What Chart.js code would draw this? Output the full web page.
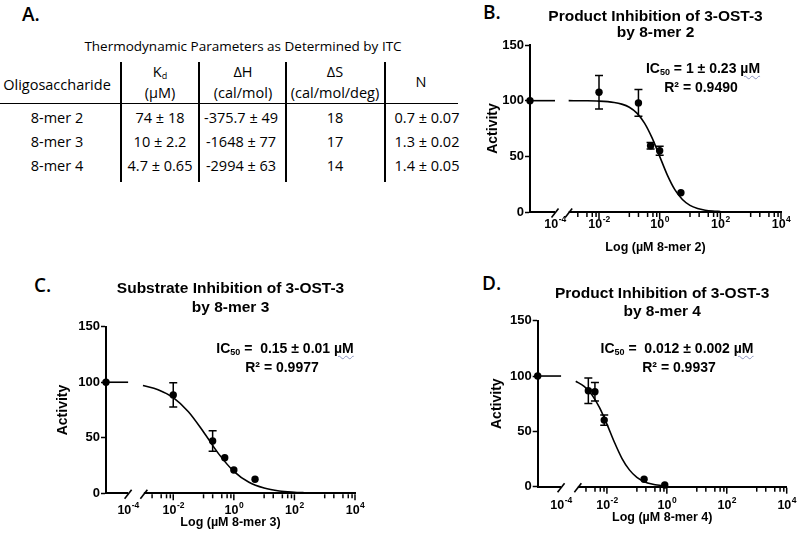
<!DOCTYPE html>
<html><head><meta charset="utf-8">
<script src="https://cdn.jsdelivr.net/npm/chart.js@4.4.0/dist/chart.umd.min.js"></script>
<style>
html,body{margin:0;padding:0;background:#fff;}
#root{position:relative;width:800px;height:542px;overflow:hidden;background:#fff;color:#000;}
.t{position:absolute;transform:translate(-50%,-50%);white-space:nowrap;line-height:1;font-family:"Open Sans",sans-serif;font-size:14.5px;font-weight:500;}
.lab{position:absolute;font-family:"Open Sans",sans-serif;font-weight:600;font-size:19px;transform:translate(0,-50%);line-height:1;}
.ann{position:absolute;transform:translate(-50%,-50%);white-space:nowrap;font-family:"Liberation Sans",Arial,sans-serif;font-weight:bold;font-size:14px;line-height:1;}
.ann sub{font-size:9px;vertical-align:-2px;line-height:0;}
.wavy{text-decoration:underline wavy #8a93c0;text-decoration-thickness:1px;text-underline-offset:2px;}
.hl{position:absolute;background:#000;}
canvas{position:absolute;}
</style></head>
<body>
<div id="root">
  <div class="lab" style="left:22px;top:14px">A.</div>
  <div class="lab" style="left:483px;top:12px">B.</div>
  <div class="lab" style="left:34px;top:285px">C.</div>
  <div class="lab" style="left:482px;top:283px">D.</div>
  <div id="tableA"></div>

  <canvas id="chartB" width="330" height="270" style="left:470px;top:0px;width:330px;height:270px"></canvas>
  <canvas id="chartC" width="400" height="272" style="left:0px;top:270px;width:400px;height:272px"></canvas>
  <canvas id="chartD" width="400" height="272" style="left:400px;top:270px;width:400px;height:272px"></canvas>

  <div class="ann" style="left:703px;top:68px">IC<sub>50</sub> = 1 ± 0.23 <span class="wavy">µM</span></div>
  <div class="ann" style="left:701px;top:87px">R² = 0.9490</div>
  <div class="ann" style="left:285px;top:348px">IC<sub>50</sub> =&nbsp; 0.15 ± 0.01 <span class="wavy">µM</span></div>
  <div class="ann" style="left:282px;top:367px">R² = 0.9977</div>
  <div class="ann" style="left:677px;top:348px">IC<sub>50</sub> =&nbsp; 0.012 ± 0.002 <span class="wavy">µM</span></div>
  <div class="ann" style="left:679px;top:367px">R² = 0.9937</div>
</div>
<script>
// ---------- Panel A table data ----------
const tableTitle = 'Thermodynamic Parameters as Determined by ITC';
const oligos = ['8-mer 2', '8-mer 3', '8-mer 4'];
const kdValues = ['74 ± 18', '10 ± 2.2', '4.7 ± 0.65'];
const dHValues = ['-375.7 ± 49', '-1648 ± 77', '-2994 ± 63'];
const dSValues = ['18', '17', '14'];
const nValues = ['0.7 ± 0.07', '1.3 ± 0.02', '1.4 ± 0.05'];

// ---------- Chart data (x = log10 concentration in µM) ----------
const xTickBase = '10';
const xTickExponents = ['-4', '-2', '0', '2', '4'];
const xMajorDecades = [-2, 0, 2, 4];
const xMinorDecades = [-3, -1, 1, 3];

// Panel B: product inhibition by 8-mer 2
const bControl = 100;
const bLogConc = [-2, -0.7, -0.3, 0, 0.7];
const bActivity = [107.5, 98, 59.5, 55, 17.3];
const bError = [15, 12, 3, 4, 0];
const bFitLogConc = [-3, -2.5, -2, -1.5, -1.25, -1, -0.75, -0.5, -0.25, 0, 0.25, 0.5, 0.75, 1, 1.25, 1.5, 1.75, 2];
const bFitActivity = [100, 99.9, 99.6, 98.4, 96.9, 94.1, 88.8, 79.9, 66.6, 50, 33.4, 20.1, 11.2, 5.9, 3.1, 1.6, 0.8, 0.4];

// Panel C: substrate inhibition by 8-mer 3
const cControl = 100;
const cLogConc = [-2, -0.7, -0.3, 0, 0.7];
const cActivity = [88.6, 47.1, 32, 21, 12.6];
const cError = [11, 9.3, 0, 0, 0];
const cFitLogConc = [-3, -2.5, -2, -1.5, -1, -0.5, 0, 0.5, 1, 1.5, 2, 2.3];
const cFitActivity = [97.1, 93.3, 86.1, 73.4, 55.2, 35.5, 19.8, 9.9, 4.7, 2.1, 1.0, 0.6];

// Panel D: product inhibition by 8-mer 4
const dControl = 100;
const dLogConc = [-2.62, -2.40, -2.09, -0.76, -0.07];
const dActivity = [86.7, 85.8, 60.2, 6.7, 1.5];
const dError = [11.6, 8.3, 4.6, 0, 0];
const dFitLogConc = [-3.04, -2.75, -2.5, -2.25, -2, -1.75, -1.5, -1.25, -1, -0.75, -0.5, -0.25, 0];
const dFitActivity = [95.3, 90.5, 83.0, 71.6, 56.6, 40.2, 25.7, 15.2, 8.4, 4.5, 2.4, 1.25, 0.65];

// ---------- Build table A ----------
(function buildTable(){
  const host = document.getElementById('tableA');
  const add = (html, x, y, extra) => {
    const d = document.createElement('div');
    d.className = 't';
    d.style.left = x + 'px'; d.style.top = y + 'px';
    if (extra) d.style.cssText += extra;
    d.innerHTML = html;
    host.appendChild(d);
  };
  const line = (x, y, w, h) => {
    const d = document.createElement('div');
    d.className = 'hl';
    d.style.left = x + 'px'; d.style.top = y + 'px';
    d.style.width = w + 'px'; d.style.height = h + 'px';
    host.appendChild(d);
  };
  add(tableTitle, 243, 47, 'font-size:13.5px;');
  add('Oligosaccharide', 57, 85);
  add('K<sub style="font-size:9px;vertical-align:-2px;line-height:0">d</sub>', 160, 72);
  add('(µM)', 160, 93);
  add('ΔH', 243, 72);
  add('(cal/mol)', 243, 93);
  add('ΔS', 335, 72);
  add('(cal/mol/deg)', 335, 93);
  add('N', 421, 82);
  line(0, 102.5, 458, 1.8);
  [121, 199, 286, 385].forEach(x => line(x - 0.9, 62, 1.8, 120));
  const rowsY = [118, 142, 166];
  const cols = [[oligos, 57], [kdValues, 160], [dHValues, 241], [dSValues, 335], [nValues, 427]];
  cols.forEach(([arr, cx]) => arr.forEach((v, i) => add(v, cx, rowsY[i])));
})();

// ---------- Charts ----------
const FONT = '"Liberation Sans", Arial, sans-serif';
Chart.defaults.font.family = FONT;
Chart.defaults.color = '#000';

const errorBarPlugin = {
  id: 'errorBars',
  afterDatasetsDraw(chart) {
    const {ctx, scales: {x, y}} = chart;
    chart.data.datasets.forEach(ds => {
      if (!ds.errors) return;
      ctx.save();
      ctx.strokeStyle = '#000';
      ctx.lineWidth = 1.5;
      ds.data.forEach((p, i) => {
        const e = ds.errors[i];
        if (!e) return;
        const px = x.getPixelForValue(p.x);
        const top = y.getPixelForValue(p.y + e);
        const bot = y.getPixelForValue(p.y - e);
        ctx.beginPath();
        ctx.moveTo(px, top); ctx.lineTo(px, bot);
        ctx.moveTo(px - 4, top); ctx.lineTo(px + 4, top);
        ctx.moveTo(px - 4, bot); ctx.lineTo(px + 4, bot);
        ctx.stroke();
      });
      ctx.restore();
    });
  }
};

const axisExtrasPlugin = {
  id: 'axisExtras',
  afterDraw(chart) {
    const o = chart.options.plugins.axisExtras;
    const {ctx, scales: {x}} = chart;
    const yAx = x.top + 1;
    ctx.save();
    ctx.strokeStyle = '#000';
    ctx.lineWidth = 1.5;
    // major ticks
    xMajorDecades.forEach(v => {
      const px = x.getPixelForValue(v);
      ctx.beginPath(); ctx.moveTo(px, yAx); ctx.lineTo(px, yAx + 6); ctx.stroke();
    });
    // minor ticks (log subdivisions in odd decades)
    const offs = [0, Math.log10(2), Math.log10(4), Math.log10(6), Math.log10(8)];
    xMinorDecades.forEach(n => offs.forEach(f => {
      const v = n + f;
      if (v <= o.breakRight + 0.05) return;
      const px = x.getPixelForValue(v);
      ctx.beginPath(); ctx.moveTo(px, yAx); ctx.lineTo(px, yAx + 4); ctx.stroke();
    }));
    // axis break
    const p1 = x.getPixelForValue(o.breakLeft);
    const p2 = x.getPixelForValue(o.breakRight);
    ctx.fillStyle = '#fff';
    ctx.fillRect(p1, yAx - 2.5, p2 - p1, 5);
    ctx.lineWidth = 1.6;
    [p1, p2].forEach(p => {
      ctx.beginPath(); ctx.moveTo(p - 3.5, yAx + 4.5); ctx.lineTo(p + 3.5, yAx - 4.5); ctx.stroke();
    });
    // tick labels: "10" with raised exponent, placed through the x scale
    ctx.fillStyle = '#000';
    ctx.textBaseline = 'middle';
    ctx.textAlign = 'left';
    const baseFont = 'bold 12.5px ' + FONT;
    const expFont = 'bold 8.5px ' + FONT;
    x.ticks.forEach((t, i) => {
      const px = x.getPixelForValue(t.value);
      ctx.font = baseFont;
      const w1 = ctx.measureText(xTickBase).width;
      ctx.font = expFont;
      const w2 = ctx.measureText(xTickExponents[i]).width;
      const x0 = px - (w1 + w2) / 2;
      const ly = yAx + o.labelOffset;
      ctx.font = baseFont;
      ctx.fillText(xTickBase, x0, ly);
      ctx.font = expFont;
      ctx.fillText(xTickExponents[i], x0 + w1 + 0.5, ly - 5);
    });
    ctx.restore();
  }
};

function makeChart(id, s) {
  const pts = s.logConc.map((v, i) => ({x: v, y: s.activity[i]}));
  const fit = s.fitX.map((v, i) => ({x: v, y: s.fitY[i]}));
  const ctrl = [{x: s.xMin, y: s.control}, {x: s.breakLeft, y: s.control}];
  const tickPos = [s.breakLeft].concat(xMajorDecades);
  return new Chart(document.getElementById(id), {
    type: 'scatter',
    data: {
      datasets: [
        {data: fit, showLine: true, pointRadius: 0, borderColor: '#000', borderWidth: 1.6,
         cubicInterpolationMode: 'monotone', clip: false},
        {data: ctrl, showLine: true, pointRadius: [3.7, 0], pointBackgroundColor: '#000',
         pointBorderWidth: 0, borderColor: '#000', borderWidth: 1.6, clip: false},
        {data: pts, showLine: false, pointRadius: 3.7, pointBackgroundColor: '#000',
         pointBorderWidth: 0, errors: s.errors, clip: false}
      ]
    },
    options: {
      responsive: false, animation: false, devicePixelRatio: 1,
      layout: {padding: s.pad},
      plugins: {
        legend: {display: false}, tooltip: {enabled: false},
        title: {display: true, text: s.title, color: '#000', fullSize: false,
                font: {family: FONT, size: 15.5, weight: 'bold', lineHeight: s.titleLH + 'px'},
                padding: s.titlePad},
        axisExtras: {breakLeft: s.breakLeft, breakRight: s.breakRight, labelOffset: s.labelOffset}
      },
      scales: {
        x: {
          type: 'linear', min: s.xMin, max: 4,
          border: {display: true, width: 2, color: '#000'},
          grid: {display: false, drawTicks: false},
          afterBuildTicks: sc => { sc.ticks = tickPos.map(v => ({value: v})); },
          ticks: {display: false, autoSkip: false, maxRotation: 0,
                  callback: (v, i) => xTickBase + '^' + xTickExponents[i]},
          title: {display: true, text: s.xTitle, color: '#000',
                  font: {family: FONT, size: 12.5, weight: 'bold', lineHeight: '15px'},
                  padding: {top: 4, bottom: 4}},
          afterFit: sc => { sc.height = s.xH; }
        },
        y: {
          min: 0, max: 150,
          border: {display: true, width: 2, color: '#000'},
          grid: {drawOnChartArea: false, drawTicks: true, tickLength: 5, tickWidth: 1.5, tickColor: '#000', color: '#000'},
          ticks: {stepSize: 50, padding: 1, color: '#000', font: {family: FONT, size: 13, weight: 'bold'}},
          title: {display: true, text: 'Activity', color: '#000',
                  font: {family: FONT, size: 14, weight: 'bold', lineHeight: '16px'},
                  padding: {top: 4, bottom: 4}},
          afterFit: sc => { sc.width = s.yW; }
        }
      }
    },
    plugins: [errorBarPlugin, axisExtrasPlugin]
  });
}

makeChart('chartB', {
  title: ['Product Inhibition of 3-OST-3', 'by 8-mer 2'], xTitle: 'Log (µM 8-mer 2)',
  control: bControl, logConc: bLogConc, activity: bActivity, errors: bError,
  fitX: bFitLogConc, fitY: bFitActivity,
  xMin: -4.275, breakLeft: -3.45, breakRight: -3.0,
  pad: {left: 11, right: 19, top: 0, bottom: 10.5}, yW: 49, xH: 47.5, labelOffset: 12,
  titleLH: 16.5, titlePad: {top: 8.4, bottom: 3.6}
});
makeChart('chartC', {
  title: ['Substrate Inhibition of 3-OST-3', 'by 8-mer 3'], xTitle: 'Log (µM 8-mer 3)',
  control: cControl, logConc: cLogConc, activity: cActivity, errors: cError,
  fitX: cFitLogConc, fitY: cFitActivity,
  xMin: -4.22, breakLeft: -3.49, breakRight: -2.97,
  pad: {left: 51, right: 45, top: 0, bottom: 7.5}, yW: 55, xH: 41.2, labelOffset: 16.5,
  titleLH: 19, titlePad: {top: 8.8, bottom: 9.9}
});
makeChart('chartD', {
  title: ['Product Inhibition of 3-OST-3', 'by 8-mer 4'], xTitle: 'Log (µM 8-mer 4)',
  control: dControl, logConc: dLogConc, activity: dActivity, errors: dError,
  fitX: dFitLogConc, fitY: dFitActivity,
  xMin: -4.31, breakLeft: -3.53, breakRight: -2.97,
  pad: {left: 85, right: 13.3, top: 0, bottom: 12.5}, yW: 52.7, xH: 42.8, labelOffset: 17.5,
  titleLH: 18, titlePad: {top: 14.7, bottom: 0}
});
</script>
</body></html>
